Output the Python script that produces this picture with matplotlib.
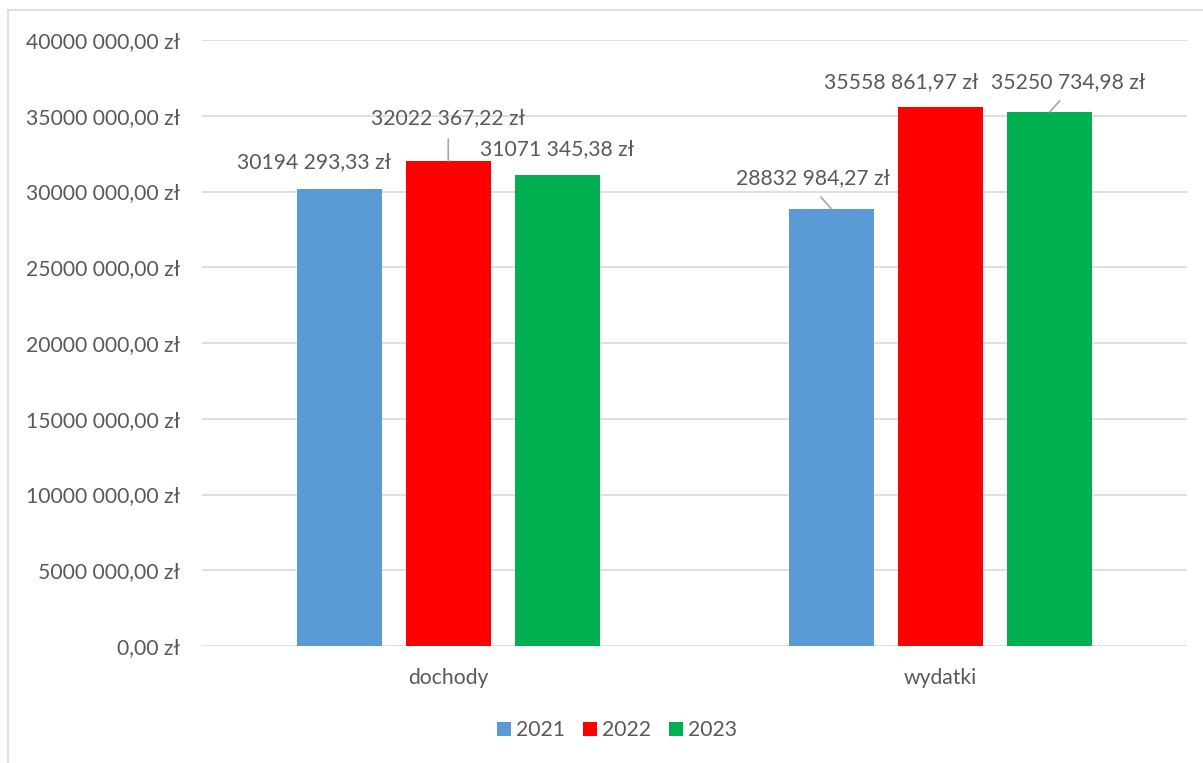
import matplotlib
matplotlib.use("Agg")
import matplotlib.pyplot as plt
from matplotlib.patches import Rectangle
import numpy as np

categories = ["dochody", "wydatki"]
years = ["2021", "2022", "2023"]
values_2021 = [30194293.33, 28832984.27]
values_2022 = [32022367.22, 35558861.97]
values_2023 = [31071345.38, 35250734.98]
series = [values_2021, values_2022, values_2023]
colors = ["#5B9BD5", "#FF0000", "#00B050"]
y_ticks = [0, 5e6, 10e6, 15e6, 20e6, 25e6, 30e6, 35e6, 40e6]

# label layout: pixel offsets from bar top (dx, dy) and whether a leader line is drawn
label_offsets = [
    [(-25, 26, False), (-19, 31, True)],
    [(0, 43, True), (-40, 25, False)],
    [(0, 26, False), (18, 30, True)],
]

TEXT = "#595959"
FONT = "Lato"
FS = 15.2


def pln(v):
    s = f"{v:.2f}"
    ip, dp = s.split(".")
    if len(ip) > 3:
        ip = ip[:-3] + " " + ip[-3:]
    return f"{ip},{dp} zł"


W, H = 1203, 763
fig = plt.figure(figsize=(W / 100, H / 100), dpi=100)
fig.patch.set_facecolor("white")

# outer chart border (only left/top visible in reference)
fig.patches.append(Rectangle((8 / W, -0.1), 1.2, 1 - 10 / H + 0.1, transform=fig.transFigure,
                             fill=False, edgecolor="#D9D9D9", linewidth=1.2))

ax = fig.add_axes([202 / W, (H - 646) / H, (1187 - 202) / W, (646 - 40) / H])
ax.set_facecolor("white")

x = np.arange(len(categories))
bw = 0.1726
step = 0.2213
bars = []
for i, (vals, c, yr) in enumerate(zip(series, colors, years)):
    b = ax.bar(x + (i - 1) * step, vals, width=bw, color=c, label=yr, zorder=3)
    bars.append(b)

ax.set_xlim(-0.5, 1.5)
ax.set_ylim(0, 40e6)
ax.set_yticks(y_ticks)
ax.set_yticklabels([pln(v) for v in y_ticks], fontfamily=FONT, fontsize=FS, color=TEXT)
ax.set_xticks(x)
ax.set_xticklabels(categories, fontfamily=FONT, fontsize=FS, color=TEXT)
ax.tick_params(axis="both", length=0)
ax.tick_params(axis="y", pad=16)
ax.tick_params(axis="x", pad=16)
ax.grid(axis="y", color="#D9D9D9", linewidth=1.2, zorder=0)
for s in ax.spines.values():
    s.set_visible(False)

for i, (b, vals) in enumerate(zip(bars, series)):
    for j, rect in enumerate(b):
        dx, dy, leader = label_offsets[i][j]
        xc = rect.get_x() + rect.get_width() / 2
        yt = rect.get_height()
        kw = {}
        if leader:
            kw["arrowprops"] = dict(arrowstyle="-", color="#A6A6A6", lw=1.2,
                                    shrinkA=6, shrinkB=0, relpos=(0.5, 0))
        ax.annotate(pln(vals[j]), xy=(xc, yt), xytext=(dx, dy), textcoords="offset pixels",
                    ha="center", va="center", fontfamily=FONT, fontsize=FS, color=TEXT,
                    zorder=5, **kw)

leg = fig.legend(loc="center", bbox_to_anchor=(617 / W, 1 - 730 / H), ncol=3, frameon=False,
                 prop={"family": FONT, "size": FS}, handlelength=0.65, handleheight=0.65,
                 handletextpad=0.25, columnspacing=0.85, labelcolor=TEXT)

fig.savefig("out.png", dpi=100, facecolor="white")
